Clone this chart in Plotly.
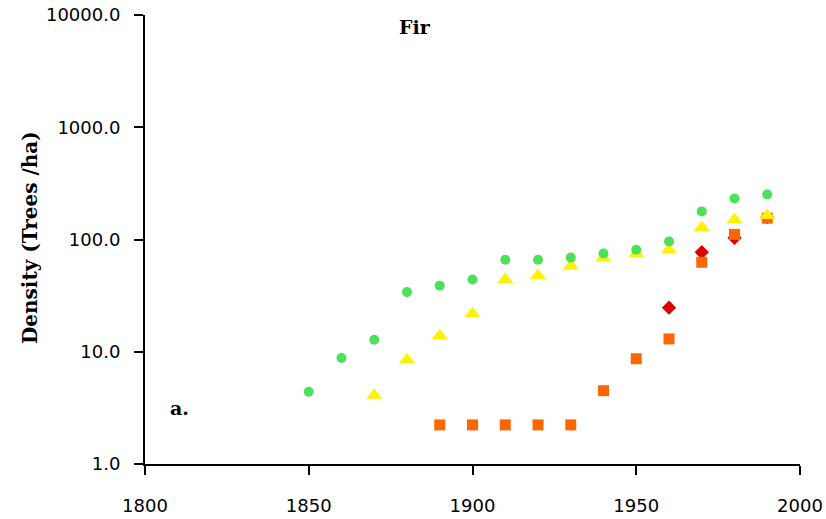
import plotly.graph_objects as go

years_green = [1850, 1860, 1870, 1880, 1890, 1900, 1910, 1920, 1930, 1940, 1950, 1960, 1970, 1980, 1990]
green = [4.4, 8.8, 12.8, 34, 38.8, 44, 66, 66, 69, 75, 81, 96, 178, 232, 252]

years_yellow = [1870, 1880, 1890, 1900, 1910, 1920, 1930, 1940, 1950, 1960, 1970, 1980, 1990]
yellow = [4.1, 8.5, 13.9, 21.8, 44, 47.7, 58, 68.7, 75, 81, 128, 151, 164]

years_orange = [1890, 1900, 1910, 1920, 1930, 1940, 1950, 1960, 1970, 1980, 1990]
orange = [2.23, 2.23, 2.23, 2.23, 2.23, 4.5, 8.66, 13, 62.7, 111, 155]

years_red = [1960, 1970, 1980, 1990]
red = [24.7, 77, 103.5, 158]

y_ticks = [1, 10, 100, 1000, 10000]
y_tick_labels = ["1.0", "10.0", "100.0", "1000.0", "10000.0"]
x_ticks = [1800, 1850, 1900, 1950, 2000]

fig = go.Figure()
fig.add_trace(go.Scatter(x=years_red, y=red, mode="markers",
                         marker=dict(symbol="diamond", size=11, color="#DD0000"), name="red"))
fig.add_trace(go.Scatter(x=years_orange, y=orange, mode="markers",
                         marker=dict(symbol="square", size=11, color="#FF6600"), name="orange"))
fig.add_trace(go.Scatter(x=years_yellow, y=yellow, mode="markers",
                         marker=dict(symbol="triangle-up", size=14, color="#FFF200"), name="yellow"))
fig.add_trace(go.Scatter(x=years_green, y=green, mode="markers",
                         marker=dict(symbol="circle", size=10, color="#4DE05A"), name="green"))

tick_font = "DejaVu Sans"
bold_font = "DejaVu Serif"
L, R, T, B = 145, 800, 15, 464
W, H = 826, 519
pw, ph = R - L, B - T

fig.update_layout(
    width=W, height=H,
    margin=dict(l=L, r=W - R, t=T, b=H - B),
    paper_bgcolor="white", plot_bgcolor="white",
    showlegend=False,
    font=dict(family=tick_font, color="black", size=17),
    annotations=[
        dict(text="<b>Fir</b>", x=(415 - L) / pw, y=1 - (27 - T) / ph, xref="paper", yref="paper",
             showarrow=False, xanchor="center", yanchor="middle",
             font=dict(size=19, family=bold_font, color="black")),
        dict(text="<b>a.</b>", x=(179 - L) / pw, y=1 - (408 - T) / ph, xref="paper", yref="paper",
             showarrow=False, xanchor="center", yanchor="middle",
             font=dict(size=19, family=bold_font, color="black")),
        dict(text="<b>Density (Trees /ha)</b>", x=(30 - L) / pw, y=1 - (238 - T) / ph,
             xref="paper", yref="paper", showarrow=False, textangle=-90,
             xanchor="center", yanchor="middle",
             font=dict(size=20, family=bold_font, color="black")),
    ],
)

fig.update_xaxes(range=[1800, 2000], tickvals=x_ticks, showline=True, linecolor="black", linewidth=2,
                 ticks="outside", ticklen=9, tickcolor="black", tickwidth=2, showgrid=False, zeroline=False,
                 automargin=False, ticklabelstandoff=15,
                 tickfont=dict(size=18, family=tick_font, color="black"))
fig.update_yaxes(type="log", range=[0, 4], tickvals=y_ticks, ticktext=y_tick_labels, showline=True,
                 linecolor="black", linewidth=2, ticks="outside", ticklen=9, tickcolor="black", tickwidth=2,
                 showgrid=False, zeroline=False, automargin=False, ticklabelstandoff=10,
                 tickfont=dict(size=18, family=tick_font, color="black"))

fig.write_html("out.html", config={"displayModeBar": False},
               post_script="document.body.style.margin='0';")
